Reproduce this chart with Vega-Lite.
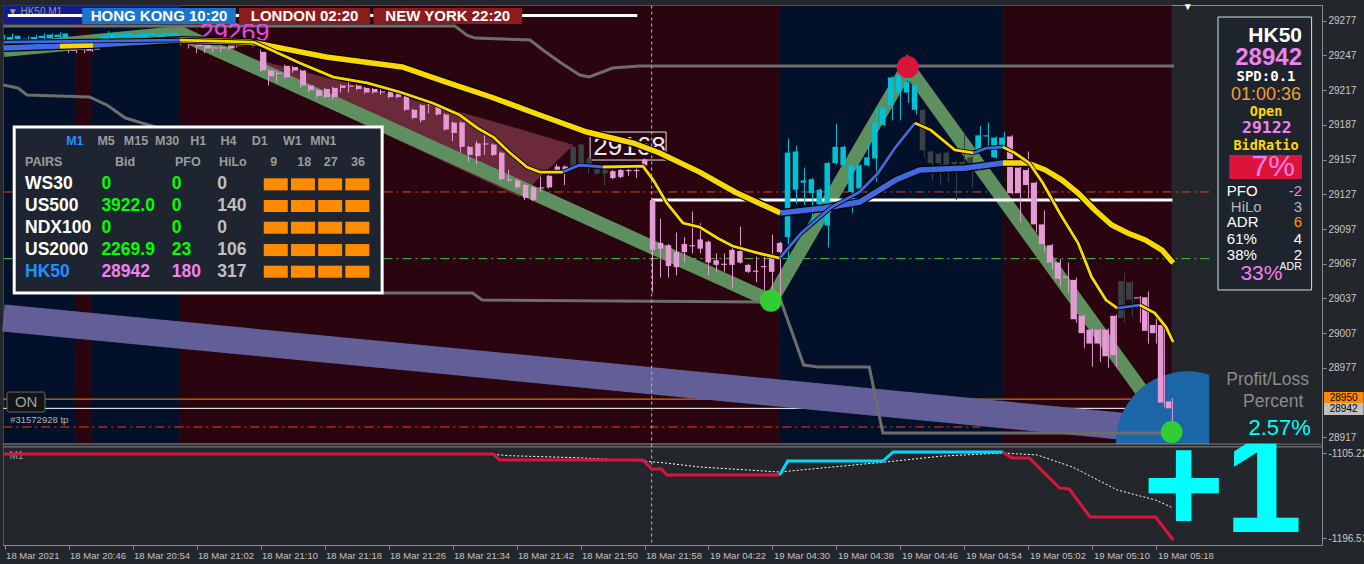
{
"$schema": "https://vega.github.io/schema/vega-lite/v6.json",
"width": 1319, "height": 540,
"autosize": {"type": "none"},
"padding": {"left": 3, "top": 5, "right": 42, "bottom": 19},
"background": "#23272b",
"config": {"view": {"fill": "#23272b", "stroke": "#8c8c8c", "strokeWidth": 1}, "text": {"font": "Liberation Sans"}},
"datasets": {
"candles": [
{"i":0,"o":29260,"h":29265,"l":29259,"c":29263,"t":"up"},{"i":1,"o":29261,"h":29266,"l":29259,"c":29264,"t":"up"},{"i":2,"o":29262,"h":29263,"l":29259,"c":29260,"t":"nt"},{"i":3,"o":29261,"h":29264,"l":29260,"c":29263,"t":"up"},{"i":4,"o":29262,"h":29265,"l":29261,"c":29264,"t":"up"},{"i":5,"o":29262,"h":29266,"l":29261,"c":29265,"t":"up"},{"i":6,"o":29263,"h":29266,"l":29262,"c":29265,"t":"up"},{"i":7,"o":29262,"h":29267,"l":29261,"c":29266,"t":"up"},{"i":8,"o":29253,"h":29255,"l":29249,"c":29251,"t":"dn"},{"i":9,"o":29253,"h":29254,"l":29249,"c":29252,"t":"dn"},{"i":10,"o":29253,"h":29254,"l":29249,"c":29251,"t":"dn"},{"i":11,"o":29254,"h":29255,"l":29250,"c":29252,"t":"dn"},{"i":12,"o":29261,"h":29265,"l":29260,"c":29264,"t":"up"},{"i":13,"o":29262,"h":29268,"l":29261,"c":29266,"t":"up"},{"i":14,"o":29263,"h":29266,"l":29262,"c":29265,"t":"up"},{"i":15,"o":29263,"h":29267,"l":29262,"c":29266,"t":"up"},{"i":16,"o":29263,"h":29266,"l":29262,"c":29265,"t":"up"},{"i":17,"o":29263,"h":29267,"l":29262,"c":29266,"t":"up"},{"i":18,"o":29264,"h":29267,"l":29263,"c":29266,"t":"up"},{"i":19,"o":29263,"h":29266,"l":29262,"c":29265,"t":"up"},{"i":20,"o":29264,"h":29267,"l":29263,"c":29266,"t":"up"},{"i":21,"o":29264,"h":29268,"l":29263,"c":29266,"t":"up"},
{"i":22,"o":29260,"h":29262,"l":29256,"c":29258,"t":"dn"},{"i":23,"o":29258,"h":29259,"l":29253,"c":29256,"t":"dn"},{"i":24,"o":29257,"h":29258,"l":29249,"c":29255,"t":"dn"},{"i":25,"o":29256,"h":29257,"l":29249,"c":29253,"t":"dn"},{"i":26,"o":29254,"h":29255,"l":29250,"c":29253,"t":"dn"},{"i":27,"o":29254,"h":29256,"l":29250,"c":29253,"t":"dn"},{"i":28,"o":29256,"h":29257,"l":29252,"c":29253,"t":"dn"},{"i":29,"o":29257,"h":29258,"l":29254,"c":29255,"t":"dn"},{"i":30,"o":29258,"h":29259,"l":29255,"c":29256,"t":"dn"},{"i":31,"o":29258,"h":29259,"l":29254,"c":29255,"t":"dn"},{"i":32,"o":29250,"h":29252,"l":29233,"c":29234,"t":"dn"},{"i":33,"o":29234,"h":29235,"l":29221,"c":29229,"t":"dn"},{"i":34,"o":29232,"h":29234,"l":29224,"c":29231,"t":"dn"},{"i":35,"o":29238,"h":29239,"l":29227,"c":29228,"t":"dn"},{"i":36,"o":29237,"h":29238,"l":29232,"c":29234,"t":"dn"},{"i":37,"o":29234,"h":29235,"l":29219,"c":29221,"t":"dn"},{"i":38,"o":29221,"h":29222,"l":29215,"c":29217,"t":"dn"},{"i":39,"o":29217,"h":29218,"l":29210,"c":29212,"t":"dn"},{"i":40,"o":29218,"h":29219,"l":29210,"c":29211,"t":"dn"},{"i":41,"o":29219,"h":29220,"l":29209,"c":29211,"t":"dn"},{"i":42,"o":29221,"h":29222,"l":29215,"c":29219,"t":"dn"},{"i":43,"o":29221,"h":29228,"l":29215,"c":29220,"t":"dn"},{"i":44,"o":29221,"h":29222,"l":29217,"c":29218,"t":"dn"},{"i":45,"o":29219,"h":29220,"l":29214,"c":29215,"t":"dn"},{"i":46,"o":29218,"h":29219,"l":29214,"c":29215,"t":"dn"},{"i":47,"o":29216,"h":29218,"l":29213,"c":29215,"t":"dn"},{"i":48,"o":29216,"h":29217,"l":29210,"c":29211,"t":"dn"},{"i":49,"o":29215,"h":29216,"l":29210,"c":29211,"t":"dn"},
{"i":50,"o":29213,"h":29214,"l":29199,"c":29200,"t":"dn"},{"i":51,"o":29200,"h":29201,"l":29192,"c":29193,"t":"dn"},{"i":52,"o":29204,"h":29205,"l":29189,"c":29191,"t":"dn"},{"i":53,"o":29205,"h":29206,"l":29197,"c":29204,"t":"dn"},{"i":54,"o":29203,"h":29204,"l":29195,"c":29196,"t":"dn"},{"i":55,"o":29196,"h":29197,"l":29182,"c":29183,"t":"dn"},{"i":56,"o":29189,"h":29190,"l":29173,"c":29180,"t":"dn"},{"i":57,"o":29189,"h":29190,"l":29163,"c":29168,"t":"dn"},{"i":58,"o":29168,"h":29169,"l":29155,"c":29161,"t":"dn"},{"i":59,"o":29171,"h":29173,"l":29153,"c":29160,"t":"dn"},{"i":60,"o":29171,"h":29178,"l":29161,"c":29170,"t":"dn"},{"i":61,"o":29170,"h":29171,"l":29160,"c":29161,"t":"dn"},{"i":62,"o":29163,"h":29164,"l":29139,"c":29140,"t":"dn"},{"i":63,"o":29140,"h":29148,"l":29138,"c":29139,"t":"dn"},{"i":64,"o":29139,"h":29140,"l":29132,"c":29133,"t":"dn"},{"i":65,"o":29135,"h":29136,"l":29122,"c":29124,"t":"dn"},{"i":66,"o":29133,"h":29134,"l":29121,"c":29122,"t":"dn"},{"i":67,"o":29133,"h":29142,"l":29129,"c":29132,"t":"dn"},{"i":68,"o":29143,"h":29144,"l":29132,"c":29133,"t":"dn"},{"i":69,"o":29151,"h":29153,"l":29145,"c":29148,"t":"dn"},{"i":70,"o":29151,"h":29152,"l":29135,"c":29148,"t":"dn"},{"i":71,"o":29151,"h":29169,"l":29150,"c":29168,"t":"nt"},{"i":72,"o":29151,"h":29171,"l":29150,"c":29170,"t":"nt"},{"i":73,"o":29150,"h":29159,"l":29145,"c":29158,"t":"nt"},{"i":74,"o":29145,"h":29150,"l":29144,"c":29149,"t":"nt"},{"i":75,"o":29145,"h":29149,"l":29135,"c":29148,"t":"nt"},{"i":76,"o":29147,"h":29148,"l":29140,"c":29141,"t":"dn"},{"i":77,"o":29148,"h":29149,"l":29141,"c":29142,"t":"dn"},{"i":78,"o":29148,"h":29149,"l":29143,"c":29147,"t":"dn"},{"i":79,"o":29148,"h":29150,"l":29141,"c":29147,"t":"dn"},{"i":80,"o":29157,"h":29158,"l":29150,"c":29152,"t":"dn"},
{"i":81,"o":29122,"h":29123,"l":29042,"c":29079,"t":"dn"},{"i":82,"o":29085,"h":29106,"l":29055,"c":29080,"t":"dn"},{"i":83,"o":29083,"h":29084,"l":29055,"c":29065,"t":"dn"},{"i":84,"o":29077,"h":29094,"l":29057,"c":29064,"t":"dn"},{"i":85,"o":29084,"h":29090,"l":29068,"c":29077,"t":"dn"},{"i":86,"o":29083,"h":29112,"l":29076,"c":29082,"t":"dn"},{"i":87,"o":29088,"h":29102,"l":29076,"c":29080,"t":"dn"},{"i":88,"o":29086,"h":29087,"l":29057,"c":29068,"t":"dn"},{"i":89,"o":29070,"h":29076,"l":29060,"c":29066,"t":"dn"},{"i":90,"o":29067,"h":29076,"l":29060,"c":29066,"t":"dn"},{"i":91,"o":29079,"h":29083,"l":29046,"c":29066,"t":"dn"},{"i":92,"o":29078,"h":29099,"l":29067,"c":29068,"t":"dn"},{"i":93,"o":29066,"h":29067,"l":29059,"c":29060,"t":"dn"},{"i":94,"o":29061,"h":29073,"l":29051,"c":29060,"t":"dn"},{"i":95,"o":29065,"h":29076,"l":29044,"c":29064,"t":"dn"},{"i":96,"o":29075,"h":29092,"l":29044,"c":29060,"t":"dn"},{"i":97,"o":29085,"h":29086,"l":29038,"c":29077,"t":"dn"},
{"i":98,"o":29090,"h":29175,"l":29070,"c":29163,"t":"up"},{"i":99,"o":29131,"h":29169,"l":29119,"c":29164,"t":"up"},{"i":100,"o":29137,"h":29150,"l":29118,"c":29139,"t":"up"},{"i":101,"o":29128,"h":29141,"l":29100,"c":29140,"t":"up"},{"i":102,"o":29118,"h":29132,"l":29099,"c":29131,"t":"up"},{"i":103,"o":29100,"h":29155,"l":29081,"c":29154,"t":"up"},{"i":104,"o":29154,"h":29188,"l":29153,"c":29168,"t":"up"},{"i":105,"o":29152,"h":29169,"l":29151,"c":29168,"t":"up"},{"i":106,"o":29129,"h":29153,"l":29111,"c":29152,"t":"up"},{"i":107,"o":29132,"h":29153,"l":29131,"c":29152,"t":"up"},{"i":108,"o":29152,"h":29171,"l":29151,"c":29159,"t":"up"},{"i":109,"o":29158,"h":29202,"l":29138,"c":29189,"t":"up"},{"i":110,"o":29187,"h":29203,"l":29186,"c":29202,"t":"up"},{"i":111,"o":29204,"h":29229,"l":29191,"c":29228,"t":"up"},{"i":112,"o":29215,"h":29231,"l":29191,"c":29230,"t":"up"},{"i":113,"o":29215,"h":29236,"l":29206,"c":29224,"t":"up"},{"i":114,"o":29200,"h":29222,"l":29196,"c":29221,"t":"up"},{"i":115,"o":29200,"h":29201,"l":29159,"c":29165,"t":"nt"},{"i":116,"o":29164,"h":29165,"l":29139,"c":29154,"t":"nt"},{"i":117,"o":29162,"h":29163,"l":29135,"c":29154,"t":"nt"},{"i":118,"o":29163,"h":29164,"l":29138,"c":29152,"t":"nt"},{"i":119,"o":29155,"h":29156,"l":29122,"c":29152,"t":"nt"},{"i":120,"o":29155,"h":29181,"l":29151,"c":29152,"t":"nt"},{"i":121,"o":29159,"h":29160,"l":29133,"c":29152,"t":"nt"},{"i":122,"o":29165,"h":29186,"l":29164,"c":29178,"t":"up"},{"i":123,"o":29177,"h":29189,"l":29168,"c":29178,"t":"up"},{"i":124,"o":29159,"h":29177,"l":29158,"c":29176,"t":"up"},{"i":125,"o":29168,"h":29181,"l":29167,"c":29176,"t":"up"},
{"i":126,"o":29177,"h":29178,"l":29127,"c":29128,"t":"dn"},{"i":127,"o":29150,"h":29151,"l":29103,"c":29128,"t":"dn"},{"i":128,"o":29148,"h":29164,"l":29122,"c":29135,"t":"dn"},{"i":129,"o":29137,"h":29138,"l":29094,"c":29101,"t":"dn"},{"i":130,"o":29101,"h":29113,"l":29077,"c":29084,"t":"dn"},{"i":131,"o":29083,"h":29084,"l":29062,"c":29068,"t":"dn"},{"i":132,"o":29068,"h":29071,"l":29048,"c":29054,"t":"dn"},{"i":133,"o":29056,"h":29068,"l":29042,"c":29055,"t":"dn"},{"i":134,"o":29053,"h":29055,"l":29016,"c":29019,"t":"dn"},{"i":135,"o":29022,"h":29023,"l":28994,"c":29007,"t":"dn"},{"i":136,"o":29010,"h":29011,"l":28978,"c":28998,"t":"dn"},{"i":137,"o":29010,"h":29011,"l":28982,"c":28998,"t":"dn"},{"i":138,"o":29010,"h":29011,"l":28977,"c":28987,"t":"dn"},{"i":139,"o":29022,"h":29023,"l":28978,"c":28988,"t":"dn"},{"i":140,"o":29052,"h":29059,"l":29016,"c":29020,"t":"nt"},{"i":141,"o":29051,"h":29052,"l":29021,"c":29036,"t":"nt"},{"i":142,"o":29038,"h":29039,"l":29016,"c":29037,"t":"dn"},{"i":143,"o":29038,"h":29043,"l":28998,"c":29009,"t":"dn"},{"i":144,"o":29014,"h":29021,"l":28998,"c":29007,"t":"dn"},{"i":145,"o":29014,"h":29015,"l":28943,"c":28947,"t":"dn"},{"i":146,"o":28948,"h":28951,"l":28921,"c":28942,"t":"dn"}
],
"ma": [
{"i":-0.1,"p":29253.4,"s":"s1","m":"s","c":"b"},{"i":6.9,"p":29255.1,"s":"s1","m":"s","c":"b"},
{"i":6.9,"p":29255.1,"s":"s2","m":"s","c":"y"},{"i":11.1,"p":29256.0,"s":"s2","m":"s","c":"y"},
{"i":11.1,"p":29256.0,"s":"s3","m":"s","c":"b"},{"i":21.9,"p":29260.3,"s":"s3","m":"s","c":"b"},
{"i":21.9,"p":29260.3,"s":"s4","m":"s","c":"y"},{"i":30.7,"p":29258.6,"s":"s4","m":"s","c":"y"},{"i":40.2,"p":29245.6,"s":"s4","m":"s","c":"y"},{"i":49.7,"p":29237.0,"s":"s4","m":"s","c":"y"},{"i":55.2,"p":29224.0,"s":"s4","m":"s","c":"y"},{"i":60.8,"p":29211.1,"s":"s4","m":"s","c":"y"},{"i":66.9,"p":29195.5,"s":"s4","m":"s","c":"y"},{"i":72.8,"p":29180.8,"s":"s4","m":"s","c":"y"},{"i":78.6,"p":29171.3,"s":"s4","m":"s","c":"y"},{"i":81.9,"p":29162.7,"s":"s4","m":"s","c":"y"},{"i":86.9,"p":29146.2,"s":"s4","m":"s","c":"y"},{"i":91.3,"p":29129.0,"s":"s4","m":"s","c":"y"},{"i":97.0,"p":29110.8,"s":"s4","m":"s","c":"y"},
{"i":97.0,"p":29110.8,"s":"s5","m":"s","c":"b"},{"i":102.5,"p":29115.1,"s":"s5","m":"s","c":"b"},{"i":106.9,"p":29120.3,"s":"s5","m":"s","c":"b"},{"i":111.4,"p":29139.3,"s":"s5","m":"s","c":"b"},{"i":114.4,"p":29148.0,"s":"s5","m":"s","c":"b"},{"i":120.2,"p":29149.7,"s":"s5","m":"s","c":"b"},{"i":124.8,"p":29154.0,"s":"s5","m":"s","c":"b"},
{"i":124.8,"p":29154.0,"s":"s6","m":"s","c":"y"},{"i":127.9,"p":29154.0,"s":"s6","m":"s","c":"y"},{"i":130.1,"p":29148.0,"s":"s6","m":"s","c":"y"},{"i":132.2,"p":29139.3,"s":"s6","m":"s","c":"y"},{"i":134.2,"p":29128.1,"s":"s6","m":"s","c":"y"},{"i":136.3,"p":29113.4,"s":"s6","m":"s","c":"y"},{"i":138.4,"p":29100.4,"s":"s6","m":"s","c":"y"},{"i":140.4,"p":29093.5,"s":"s6","m":"s","c":"y"},{"i":142.6,"p":29087.5,"s":"s6","m":"s","c":"y"},{"i":144.7,"p":29078.8,"s":"s6","m":"s","c":"y"},{"i":146.1,"p":29067.6,"s":"s6","m":"s","c":"y"},
{"i":-0.1,"p":29258.6,"s":"f1","m":"f","c":"b"},{"i":21.9,"p":29260.3,"s":"f1","m":"f","c":"b"},
{"i":21.9,"p":29260.3,"s":"f2","m":"f","c":"y"},{"i":31.1,"p":29258.6,"s":"f2","m":"f","c":"y"},{"i":32.8,"p":29253.4,"s":"f2","m":"f","c":"y"},{"i":36.9,"p":29240.4,"s":"f2","m":"f","c":"y"},{"i":41.1,"p":29228.3,"s":"f2","m":"f","c":"y"},{"i":45.3,"p":29223.2,"s":"f2","m":"f","c":"y"},{"i":49.4,"p":29215.4,"s":"f2","m":"f","c":"y"},{"i":53.5,"p":29205.9,"s":"f2","m":"f","c":"y"},{"i":56.9,"p":29195.5,"s":"f2","m":"f","c":"y"},{"i":59.1,"p":29184.3,"s":"f2","m":"f","c":"y"},{"i":61.1,"p":29176.5,"s":"f2","m":"f","c":"y"},{"i":63.2,"p":29162.7,"s":"f2","m":"f","c":"y"},{"i":65.3,"p":29150.6,"s":"f2","m":"f","c":"y"},{"i":66.9,"p":29146.2,"s":"f2","m":"f","c":"y"},{"i":69.8,"p":29146.2,"s":"f2","m":"f","c":"y"},
{"i":69.8,"p":29146.2,"s":"f3","m":"f","c":"b"},{"i":71.9,"p":29152.3,"s":"f3","m":"f","c":"b"},{"i":74.8,"p":29150.6,"s":"f3","m":"f","c":"b"},
{"i":74.8,"p":29150.6,"s":"f4","m":"f","c":"y"},{"i":79.8,"p":29151.4,"s":"f4","m":"f","c":"y"},{"i":81.1,"p":29139.3,"s":"f4","m":"f","c":"y"},{"i":82.8,"p":29119.4,"s":"f4","m":"f","c":"y"},{"i":84.8,"p":29102.2,"s":"f4","m":"f","c":"y"},{"i":86.9,"p":29098.7,"s":"f4","m":"f","c":"y"},{"i":89.1,"p":29089.2,"s":"f4","m":"f","c":"y"},{"i":91.0,"p":29082.3,"s":"f4","m":"f","c":"y"},{"i":94.1,"p":29076.3,"s":"f4","m":"f","c":"y"},{"i":96.9,"p":29071.9,"s":"f4","m":"f","c":"y"},
{"i":96.9,"p":29071.9,"s":"f5","m":"f","c":"b"},{"i":99.6,"p":29093.5,"s":"f5","m":"f","c":"b"},{"i":103.4,"p":29116.0,"s":"f5","m":"f","c":"b"},{"i":106.9,"p":29129.0,"s":"f5","m":"f","c":"b"},{"i":109.2,"p":29145.4,"s":"f5","m":"f","c":"b"},{"i":111.4,"p":29167.8,"s":"f5","m":"f","c":"b"},{"i":113.8,"p":29188.6,"s":"f5","m":"f","c":"b"},
{"i":113.8,"p":29188.6,"s":"f6","m":"f","c":"y"},{"i":115.8,"p":29182.5,"s":"f6","m":"f","c":"y"},{"i":118.8,"p":29165.3,"s":"f6","m":"f","c":"y"},{"i":121.1,"p":29162.7,"s":"f6","m":"f","c":"y"},
{"i":121.1,"p":29162.7,"s":"f7","m":"f","c":"b"},{"i":122.8,"p":29167.0,"s":"f7","m":"f","c":"b"},{"i":124.8,"p":29167.8,"s":"f7","m":"f","c":"b"},
{"i":124.8,"p":29167.8,"s":"f8","m":"f","c":"y"},{"i":126.3,"p":29162.7,"s":"f8","m":"f","c":"y"},{"i":128.1,"p":29154.0,"s":"f8","m":"f","c":"y"},{"i":129.8,"p":29136.7,"s":"f8","m":"f","c":"y"},{"i":131.9,"p":29110.8,"s":"f8","m":"f","c":"y"},{"i":134.2,"p":29084.9,"s":"f8","m":"f","c":"y"},{"i":135.9,"p":29055.5,"s":"f8","m":"f","c":"y"},{"i":137.7,"p":29035.6,"s":"f8","m":"f","c":"y"},{"i":139.1,"p":29028.7,"s":"f8","m":"f","c":"y"},
{"i":139.1,"p":29028.7,"s":"f9","m":"f","c":"b"},{"i":141.9,"p":29031.3,"s":"f9","m":"f","c":"b"},
{"i":141.9,"p":29031.3,"s":"f10","m":"f","c":"y"},{"i":143.8,"p":29024.4,"s":"f10","m":"f","c":"y"},{"i":145.2,"p":29012.3,"s":"f10","m":"f","c":"y"},{"i":146.1,"p":28999.3,"s":"f10","m":"f","c":"y"}
],
"gray": [
{"i":-0.15,"p":29272.4,"g":"u"},{"i":56.3,"p":29272.4,"g":"u"},{"i":57.8,"p":29264.6,"g":"u"},{"i":58.8,"p":29262.0,"g":"u"},{"i":65.7,"p":29260.3,"g":"u"},{"i":67.3,"p":29251.7,"g":"u"},{"i":69.4,"p":29241.3,"g":"u"},{"i":71.9,"p":29230.1,"g":"u"},{"i":73.1,"p":29228.4,"g":"u"},{"i":76.0,"p":29236.1,"g":"u"},{"i":79.4,"p":29237.9,"g":"u"},{"i":146.2,"p":29237.9,"g":"u"},
{"i":-0.15,"p":29221.4,"g":"l"},{"i":1.7,"p":29218.8,"g":"l"},{"i":2.8,"p":29212.8,"g":"l"},{"i":10.6,"p":29211.1,"g":"l"},{"i":12.8,"p":29204.1,"g":"l"},{"i":15.1,"p":29192.9,"g":"l"},{"i":18.9,"p":29185.1,"g":"l"},{"i":31.9,"p":29122.0,"g":"l"},{"i":47.4,"p":29041.7,"g":"l"},{"i":58.5,"p":29041.7,"g":"l"},{"i":59.7,"p":29035.6,"g":"l"},{"i":97.1,"p":29033.9,"g":"l"},{"i":99.9,"p":28979.4,"g":"l"},{"i":101.7,"p":28977.7,"g":"l"},{"i":108.1,"p":28977.7,"g":"l"},{"i":109.8,"p":28920.7,"g":"l"},{"i":146.0,"p":28920.7,"g":"l"}
],
"tbl": [
{"s":"M1","i":7.7,"p":29173.3,"k":"h","r":0},{"s":"M5","i":11.6,"p":29173.3,"k":"h","r":0},{"s":"M15","i":14.9,"p":29173.3,"k":"h","r":0},{"s":"M30","i":18.8,"p":29173.3,"k":"h","r":0},{"s":"H1","i":23.2,"p":29173.3,"k":"h","r":0},{"s":"H4","i":27.0,"p":29173.3,"k":"h","r":0},{"s":"D1","i":30.9,"p":29173.3,"k":"h","r":0},{"s":"W1","i":34.8,"p":29173.3,"k":"h","r":0},{"s":"MN1","i":38.2,"p":29173.3,"k":"h","r":0},
{"s":"PAIRS","i":2.55,"p":29155.1,"k":"h","r":0},{"s":"Bid","i":13.8,"p":29155.1,"k":"h","r":0},{"s":"PFO","i":21.3,"p":29155.1,"k":"h","r":0},{"s":"HiLo","i":26.8,"p":29155.1,"k":"h","r":0},{"s":"9","i":33.2,"p":29155.1,"k":"h","r":0},{"s":"18","i":36.6,"p":29155.1,"k":"h","r":0},{"s":"27","i":39.9,"p":29155.1,"k":"h","r":0},{"s":"36","i":43.3,"p":29155.1,"k":"h","r":0},
{"s":"WS30","i":2.55,"p":29135.6,"k":"n","r":1},{"s":"0","i":12.1,"p":29135.6,"k":"b","r":1},{"s":"0","i":20.9,"p":29135.6,"k":"f","r":1},{"s":"0","i":26.6,"p":29135.6,"k":"x","r":1},
{"s":"US500","i":2.55,"p":29116.9,"k":"n","r":2},{"s":"3922.0","i":12.1,"p":29116.9,"k":"b","r":2},{"s":"0","i":20.9,"p":29116.9,"k":"f","r":2},{"s":"140","i":26.6,"p":29116.9,"k":"x","r":2},
{"s":"NDX100","i":2.55,"p":29098.1,"k":"n","r":3},{"s":"0","i":12.1,"p":29098.1,"k":"b","r":3},{"s":"0","i":20.9,"p":29098.1,"k":"f","r":3},{"s":"0","i":26.6,"p":29098.1,"k":"x","r":3},
{"s":"US2000","i":2.55,"p":29078.8,"k":"n","r":4},{"s":"2269.9","i":12.1,"p":29078.8,"k":"b","r":4},{"s":"23","i":20.9,"p":29078.8,"k":"f","r":4},{"s":"106","i":26.6,"p":29078.8,"k":"x","r":4},
{"s":"HK50","i":2.55,"p":29060.1,"k":"n","r":5},{"s":"28942","i":12.1,"p":29060.1,"k":"b","r":5},{"s":"180","i":20.9,"p":29060.1,"k":"f","r":5},{"s":"317","i":26.6,"p":29060.1,"k":"x","r":5}
],
"boxes": [
{"i":32.4,"i2":35.4,"p":29140.8,"p2":29130.4},{"i":35.8,"i2":38.8,"p":29140.8,"p2":29130.4},{"i":39.2,"i2":42.2,"p":29140.8,"p2":29130.4},{"i":42.6,"i2":45.6,"p":29140.8,"p2":29130.4},
{"i":32.4,"i2":35.4,"p":29122.1,"p2":29111.7},{"i":35.8,"i2":38.8,"p":29122.1,"p2":29111.7},{"i":39.2,"i2":42.2,"p":29122.1,"p2":29111.7},{"i":42.6,"i2":45.6,"p":29122.1,"p2":29111.7},
{"i":32.4,"i2":35.4,"p":29103.3,"p2":29092.9},{"i":35.8,"i2":38.8,"p":29103.3,"p2":29092.9},{"i":39.2,"i2":42.2,"p":29103.3,"p2":29092.9},{"i":42.6,"i2":45.6,"p":29103.3,"p2":29092.9},
{"i":32.4,"i2":35.4,"p":29084.0,"p2":29073.6},{"i":35.8,"i2":38.8,"p":29084.0,"p2":29073.6},{"i":39.2,"i2":42.2,"p":29084.0,"p2":29073.6},{"i":42.6,"i2":45.6,"p":29084.0,"p2":29073.6},
{"i":32.4,"i2":35.4,"p":29065.3,"p2":29054.9},{"i":35.8,"i2":38.8,"p":29065.3,"p2":29054.9},{"i":39.2,"i2":42.2,"p":29065.3,"p2":29054.9},{"i":42.6,"i2":45.6,"p":29065.3,"p2":29054.9}
],
"pan": [
{"s":"HK50","i":162.2,"p":29263.8,"r":"t"},{"s":"28942","i":162.2,"p":29244.8,"r":"b"},{"s":"SPD:0.1","i":157.7,"p":29228.3,"r":"m1"},{"s":"01:00:36","i":157.7,"p":29212.4,"r":"clk"},{"s":"Open","i":157.7,"p":29198.1,"r":"m2"},{"s":"29122","i":157.8,"p":29184.6,"r":"m3"},{"s":"BidRatio","i":157.7,"p":29168.7,"r":"m2"},{"s":"7%","i":161.3,"p":29150.6,"r":"pct"},
{"s":"PFO","i":152.8,"p":29129.8,"r":"lab"},{"s":"HiLo","i":153.3,"p":29116.0,"r":"lab"},{"s":"ADR","i":152.8,"p":29103.0,"r":"lab"},{"s":"61%","i":152.8,"p":29088.3,"r":"lab"},{"s":"38%","i":152.8,"p":29074.5,"r":"lab"},
{"s":"-2","i":162.2,"p":29129.8,"r":"val"},{"s":"3","i":162.2,"p":29116.0,"r":"val"},{"s":"6","i":162.2,"p":29103.0,"r":"val"},{"s":"4","i":162.2,"p":29088.3,"r":"val"},{"s":"2","i":162.2,"p":29074.5,"r":"val"},
{"s":"33%","i":154.5,"p":29058.1,"r":"big"},{"s":"ADR","i":159.4,"p":29064.3,"r":"sup"}
],
"osc": [
{"i":-0.15,"v":-1106.3,"s":"a","c":"r"},{"i":61.1,"v":-1106.3,"s":"a","c":"r"},{"i":61.9,"v":-1112.7,"s":"a","c":"r"},{"i":79.8,"v":-1112.7,"s":"a","c":"r"},{"i":80.9,"v":-1122.4,"s":"a","c":"r"},{"i":82.1,"v":-1122.4,"s":"a","c":"r"},{"i":82.8,"v":-1128.8,"s":"a","c":"r"},{"i":96.9,"v":-1128.8,"s":"a","c":"r"},
{"i":96.9,"v":-1128.8,"s":"b","c":"c"},{"i":97.9,"v":-1113.8,"s":"b","c":"c"},{"i":109.8,"v":-1113.8,"s":"b","c":"c"},{"i":111.1,"v":-1104.1,"s":"b","c":"c"},{"i":124.8,"v":-1104.1,"s":"b","c":"c"},
{"i":124.8,"v":-1104.1,"s":"d","c":"r"},{"i":125.9,"v":-1110.6,"s":"d","c":"r"},{"i":128.1,"v":-1110.6,"s":"d","c":"r"},{"i":131.9,"v":-1142.8,"s":"d","c":"r"},{"i":133.1,"v":-1143.9,"s":"d","c":"r"},{"i":135.7,"v":-1173.9,"s":"d","c":"r"},{"i":143.9,"v":-1173.9,"s":"d","c":"r"},{"i":146.1,"v":-1198.6,"s":"d","c":"r"}
],
"osd": [
{"i":61.1,"v":-1106.6},{"i":63.1,"v":-1108.1},{"i":71.4,"v":-1110.2},{"i":79.8,"v":-1113.8},{"i":82.6,"v":-1115.9},{"i":86.9,"v":-1120.2},{"i":96.9,"v":-1125.6},{"i":100.8,"v":-1122.4},{"i":110.1,"v":-1114.9},{"i":117.2,"v":-1108.5},{"i":124.8,"v":-1105.2},{"i":129.1,"v":-1107.3},{"i":133.5,"v":-1120.2},{"i":139.1,"v":-1144.9},{"i":143.9,"v":-1155.7},{"i":146.1,"v":-1164.3}
]
},
"layer": [
{"data": {"values": [{"i":-0.15,"i2":8.9,"p":29290.1,"p2":28911.6,"k":"n"},{"i":8.9,"i2":10.9,"p":29290.1,"p2":28911.6,"k":"m"},{"i":10.9,"i2":21.9,"p":29290.1,"p2":28911.6,"k":"n"},{"i":21.9,"i2":96.9,"p":29290.1,"p2":28911.6,"k":"m"},{"i":96.9,"i2":124.8,"p":29290.1,"p2":28911.6,"k":"n"},{"i":124.8,"i2":145.9,"p":29290.1,"p2":28911.6,"k":"m"}]},
 "mark": {"type": "rect"},
 "encoding": {
  "x": {"field": "i", "type": "quantitative", "scale": {"domain": [-0.2, 164.7], "nice": false, "zero": false},
   "axis": {"orient": "bottom", "values": [0,8,16,24,32,40,48,56,64,72,80,88,96,104,112,120,128,136,144],
    "labelExpr": "['18 Mar 2021','18 Mar 20:46','18 Mar 20:54','18 Mar 21:02','18 Mar 21:10','18 Mar 21:18','18 Mar 21:26','18 Mar 21:34','18 Mar 21:42','18 Mar 21:50','18 Mar 21:58','19 Mar 04:22','19 Mar 04:30','19 Mar 04:38','19 Mar 04:46','19 Mar 04:54','19 Mar 05:02','19 Mar 05:10','19 Mar 05:18'][round(datum.value/8)]",
    "title": null, "grid": false, "domain": false, "ticks": true, "tickColor": "#8c8c8c", "tickSize": 4, "labels": true, "labelColor": "#c0c0c0", "labelFont": "Liberation Sans", "labelFontSize": 9.5, "labelAlign": "left", "labelBaseline": "top", "labelPadding": 1, "labelOffset": 1, "labelOverlap": false, "labelFlush": false, "labelBound": false, "zindex": 1}},
  "x2": {"field": "i2"},
  "y": {"field": "p", "type": "quantitative", "scale": {"domain": [28823.9, 29290.6], "nice": false, "zero": false},
   "axis": {"orient": "right", "values": [29277,29247,29217,29187,29157,29127,29097,29067,29037,29007,28977,28917,28903.4,28829.9], "format": "d",
    "labelExpr": "datum.value < 28910 ? (datum.value > 28860 ? '-1105.220' : '-1196.519') : datum.label",
    "title": null, "grid": false, "domain": true, "domainColor": "#8c8c8c", "ticks": true, "tickColor": "#8c8c8c", "tickSize": 4, "labels": true, "labelColor": "#c8c8c8", "labelFont": "Liberation Sans", "labelFontSize": 10, "labelPadding": 2, "labelBaseline": "middle", "labelBound": false, "labelFlush": false, "labelOverlap": false, "zindex": 1}},
  "y2": {"field": "p2"},
  "color": {"condition": {"test": "datum.k=='n'", "value": "#031029"}, "value": "#2a0510"}}},
{"data": {"values": [{"i":-0.15,"i2":21.9,"p":29290.1,"p2":29274.2}]}, "mark": {"type": "rect", "color": "#111c8a"},
 "encoding": {"x": {"field": "i", "type": "quantitative", "scale": {"domain": [-0.2, 164.7], "nice": false, "zero": false}, "axis": null}, "x2": {"field": "i2"}, "y": {"field": "p", "type": "quantitative", "scale": {"domain": [28823.9, 29290.6], "nice": false, "zero": false}, "axis": null}, "y2": {"field": "p2"}}},
{"data": {"values": [{"s":"▼ HK50,M1","i":0.4,"p":29284.5}]}, "mark": {"type": "text", "align": "left", "baseline": "middle", "fontSize": 10, "color": "#9a9a9a"},
 "encoding": {"x": {"field": "i", "type": "quantitative", "scale": {"domain": [-0.2, 164.7], "nice": false, "zero": false}, "axis": null}, "y": {"field": "p", "type": "quantitative", "scale": {"domain": [28823.9, 29290.6], "nice": false, "zero": false}, "axis": null}, "text": {"field": "s"}}},
{"data": {"values": [{"i":-0.15,"i2":146,"p":28950,"k":"o"},{"i":-0.15,"i2":146,"p":28942,"k":"w"}]}, "mark": {"type": "rule", "strokeWidth": 1},
 "encoding": {"x": {"field": "i", "type": "quantitative", "scale": {"domain": [-0.2, 164.7], "nice": false, "zero": false}, "axis": null}, "x2": {"field": "i2"}, "y": {"field": "p", "type": "quantitative", "scale": {"domain": [28823.9, 29290.6], "nice": false, "zero": false}, "axis": null}, "color": {"condition": {"test": "datum.k=='o'", "value": "#ff8c00"}, "value": "#ffffff"}}},
{"data": {"values": [{"i":-0.15,"i2":122,"p":28925.9,"k":"r"},{"i":-0.15,"i2":150.6,"p":29129,"k":"o"},{"i":-0.15,"i2":150.6,"p":29071.4,"k":"g"}]}, "mark": {"type": "rule", "strokeWidth": 1, "strokeDash": [9,4,2,4]},
 "encoding": {"x": {"field": "i", "type": "quantitative", "scale": {"domain": [-0.2, 164.7], "nice": false, "zero": false}, "axis": null}, "x2": {"field": "i2"}, "y": {"field": "p", "type": "quantitative", "scale": {"domain": [28823.9, 29290.6], "nice": false, "zero": false}, "axis": null}, "color": {"condition": [{"test": "datum.k=='r'", "value": "#ff3c14"}, {"test": "datum.k=='o'", "value": "#d24a28"}], "value": "#3cc83c"}}},
{"data": {"values": [{"i":-0.15,"p":29020.1},{"i":145.9,"p":28922.4}]}, "mark": {"type": "line", "strokeWidth": 27, "color": "#625f98", "strokeCap": "butt"},
 "encoding": {"x": {"field": "i", "type": "quantitative", "scale": {"domain": [-0.2, 164.7], "nice": false, "zero": false}, "axis": null}, "y": {"field": "p", "type": "quantitative", "scale": {"domain": [28823.9, 29290.6], "nice": false, "zero": false}, "axis": null}}},
{"data": {"values": [{"i":24.4,"p":29256.0,"p2":29253.4},{"i":56.9,"p":29198.1,"p2":29148.8},{"i":64.4,"p":29183.4,"p2":29124.6},{"i":71.1,"p":29169.6,"p2":29169.6}]}, "mark": {"type": "area", "color": "#6b2a3a"},
 "encoding": {"x": {"field": "i", "type": "quantitative", "scale": {"domain": [-0.2, 164.7], "nice": false, "zero": false}, "axis": null}, "y": {"field": "p", "type": "quantitative", "scale": {"domain": [28823.9, 29290.6], "nice": false, "zero": false}, "axis": null}, "y2": {"field": "p2"}}},
{"data": {"values": [{"i":-0.1,"p":29251.7},{"i":21.9,"p":29266.4},{"i":95.8,"p":29034.8},{"i":112.9,"p":29237.0},{"i":145.9,"p":28921.5}]}, "mark": {"type": "line", "strokeWidth": 14, "color": "#5e8f5e", "strokeCap": "butt"},
 "encoding": {"x": {"field": "i", "type": "quantitative", "scale": {"domain": [-0.2, 164.7], "nice": false, "zero": false}, "axis": null}, "y": {"field": "p", "type": "quantitative", "scale": {"domain": [28823.9, 29290.6], "nice": false, "zero": false}, "axis": null}}},
{"data": {"values": [{"i":147.9,"p":28912.0}]}, "mark": {"type": "circle", "size": 20612, "color": "#1b66a6", "opacity": 1},
 "encoding": {"x": {"field": "i", "type": "quantitative", "scale": {"domain": [-0.2, 164.7], "nice": false, "zero": false}, "axis": null}, "y": {"field": "p", "type": "quantitative", "scale": {"domain": [28823.9, 29290.6], "nice": false, "zero": false}, "axis": null}}},
{"data": {"values": [{"i":80.9,"i2":146,"p":29122}]}, "mark": {"type": "rule", "strokeWidth": 3, "color": "#ffffff"},
 "encoding": {"x": {"field": "i", "type": "quantitative", "scale": {"domain": [-0.2, 164.7], "nice": false, "zero": false}, "axis": null}, "x2": {"field": "i2"}, "y": {"field": "p", "type": "quantitative", "scale": {"domain": [28823.9, 29290.6], "nice": false, "zero": false}, "axis": null}}},
{"data": {"name": "gray"}, "mark": {"type": "line", "strokeWidth": 3, "color": "#6d6d6d"},
 "encoding": {"x": {"field": "i", "type": "quantitative", "scale": {"domain": [-0.2, 164.7], "nice": false, "zero": false}, "axis": null}, "y": {"field": "p", "type": "quantitative", "scale": {"domain": [28823.9, 29290.6], "nice": false, "zero": false}, "axis": null}, "detail": {"field": "g"}}},
{"data": {"values": [{"s":"29269","i":24.4,"p":29266.4}]}, "mark": {"type": "text", "align": "left", "baseline": "middle", "fontSize": 25, "color": "#e24be2"},
 "encoding": {"x": {"field": "i", "type": "quantitative", "scale": {"domain": [-0.2, 164.7], "nice": false, "zero": false}, "axis": null}, "y": {"field": "p", "type": "quantitative", "scale": {"domain": [28823.9, 29290.6], "nice": false, "zero": false}, "axis": null}, "text": {"field": "s"}}},
{"data": {"values": [{"i":73.2,"i2":82.7,"p":29180.8,"p2":29156.6}]}, "mark": {"type": "rect", "filled": false, "color": "#e0e0e0", "strokeWidth": 1},
 "encoding": {"x": {"field": "i", "type": "quantitative", "scale": {"domain": [-0.2, 164.7], "nice": false, "zero": false}, "axis": null}, "x2": {"field": "i2"}, "y": {"field": "p", "type": "quantitative", "scale": {"domain": [28823.9, 29290.6], "nice": false, "zero": false}, "axis": null}, "y2": {"field": "p2"}}},
{"data": {"values": [{"s":"29168","i":73.6,"p":29167.8}]}, "mark": {"type": "text", "align": "left", "baseline": "middle", "fontSize": 26, "color": "#e8e8e8"},
 "encoding": {"x": {"field": "i", "type": "quantitative", "scale": {"domain": [-0.2, 164.7], "nice": false, "zero": false}, "axis": null}, "y": {"field": "p", "type": "quantitative", "scale": {"domain": [28823.9, 29290.6], "nice": false, "zero": false}, "axis": null}, "text": {"field": "s"}}},
{"data": {"name": "candles"}, "mark": {"type": "rule", "strokeWidth": 1},
 "encoding": {"x": {"field": "i", "type": "quantitative", "scale": {"domain": [-0.2, 164.7], "nice": false, "zero": false}, "axis": null}, "y": {"field": "l", "type": "quantitative", "scale": {"domain": [28823.9, 29290.6], "nice": false, "zero": false}, "axis": null}, "y2": {"field": "h"}, "color": {"condition": [{"test": "datum.t=='up'", "value": "#00c2d6"}, {"test": "datum.t=='nt'", "value": "#3c4045"}], "value": "#e49bd3"}}},
{"data": {"name": "candles"}, "mark": {"type": "bar", "size": 5.5},
 "encoding": {"x": {"field": "i", "type": "quantitative", "scale": {"domain": [-0.2, 164.7], "nice": false, "zero": false}, "axis": null}, "y": {"field": "o", "type": "quantitative", "scale": {"domain": [28823.9, 29290.6], "nice": false, "zero": false}, "axis": null}, "y2": {"field": "c"}, "color": {"condition": [{"test": "datum.t=='up'", "value": "#00c2d6"}, {"test": "datum.t=='nt'", "value": "#3c4045"}], "value": "#e49bd3"}}},
{"data": {"name": "ma"}, "transform": [{"filter": "datum.m=='s'"}], "mark": {"type": "line", "strokeWidth": 8, "color": "#000000"},
 "encoding": {"x": {"field": "i", "type": "quantitative", "scale": {"domain": [-0.2, 164.7], "nice": false, "zero": false}, "axis": null}, "y": {"field": "p", "type": "quantitative", "scale": {"domain": [28823.9, 29290.6], "nice": false, "zero": false}, "axis": null}, "detail": {"field": "s"}}},
{"data": {"name": "ma"}, "transform": [{"filter": "datum.m=='s'"}], "mark": {"type": "line", "strokeWidth": 5.5},
 "encoding": {"x": {"field": "i", "type": "quantitative", "scale": {"domain": [-0.2, 164.7], "nice": false, "zero": false}, "axis": null}, "y": {"field": "p", "type": "quantitative", "scale": {"domain": [28823.9, 29290.6], "nice": false, "zero": false}, "axis": null}, "detail": {"field": "s"}, "color": {"condition": {"test": "datum.c=='b'", "value": "#4169e1"}, "value": "#ffd700"}}},
{"data": {"name": "ma"}, "transform": [{"filter": "datum.m=='f'"}], "mark": {"type": "line", "strokeWidth": 4.5, "color": "#000000"},
 "encoding": {"x": {"field": "i", "type": "quantitative", "scale": {"domain": [-0.2, 164.7], "nice": false, "zero": false}, "axis": null}, "y": {"field": "p", "type": "quantitative", "scale": {"domain": [28823.9, 29290.6], "nice": false, "zero": false}, "axis": null}, "detail": {"field": "s"}}},
{"data": {"name": "ma"}, "transform": [{"filter": "datum.m=='f'"}], "mark": {"type": "line", "strokeWidth": 2.8},
 "encoding": {"x": {"field": "i", "type": "quantitative", "scale": {"domain": [-0.2, 164.7], "nice": false, "zero": false}, "axis": null}, "y": {"field": "p", "type": "quantitative", "scale": {"domain": [28823.9, 29290.6], "nice": false, "zero": false}, "axis": null}, "detail": {"field": "s"}, "color": {"condition": {"test": "datum.c=='b'", "value": "#4169e1"}, "value": "#ffd700"}}},
{"data": {"values": [{"i":112.9,"p":29237.0,"k":"r"},{"i":95.8,"p":29035.0,"k":"g"},{"i":145.9,"p":28921.5,"k":"g"}]}, "mark": {"type": "circle", "size": 480, "opacity": 1},
 "encoding": {"x": {"field": "i", "type": "quantitative", "scale": {"domain": [-0.2, 164.7], "nice": false, "zero": false}, "axis": null}, "y": {"field": "p", "type": "quantitative", "scale": {"domain": [28823.9, 29290.6], "nice": false, "zero": false}, "axis": null}, "color": {"condition": {"test": "datum.k=='r'", "value": "#dc143c"}, "value": "#32cd32"}}},
{"data": {"values": [{"i":0.4,"i2":79.1,"p":29281.5}]}, "mark": {"type": "rule", "strokeWidth": 3, "color": "#ffffff"},
 "encoding": {"x": {"field": "i", "type": "quantitative", "scale": {"domain": [-0.2, 164.7], "nice": false, "zero": false}, "axis": null}, "x2": {"field": "i2"}, "y": {"field": "p", "type": "quantitative", "scale": {"domain": [28823.9, 29290.6], "nice": false, "zero": false}, "axis": null}}},
{"data": {"values": [{"i":9.7,"i2":28.9,"p":29288.0,"p2":29274.2,"k":"h"},{"i":29.3,"i2":45.7,"p":29288.0,"p2":29274.2,"k":"l"},{"i":46.1,"i2":64.7,"p":29288.0,"p2":29274.2,"k":"n"}]}, "mark": {"type": "rect"},
 "encoding": {"x": {"field": "i", "type": "quantitative", "scale": {"domain": [-0.2, 164.7], "nice": false, "zero": false}, "axis": null}, "x2": {"field": "i2"}, "y": {"field": "p", "type": "quantitative", "scale": {"domain": [28823.9, 29290.6], "nice": false, "zero": false}, "axis": null}, "y2": {"field": "p2"}, "color": {"condition": {"test": "datum.k=='h'", "value": "#1a74cc"}, "value": "#8c1c1c"}}},
{"data": {"values": [{"s":"HONG KONG 10:20","i":19.3,"p":29281.1},{"s":"LONDON  02:20","i":37.5,"p":29281.1},{"s":"NEW YORK  22:20","i":55.4,"p":29281.1}]}, "mark": {"type": "text", "align": "center", "baseline": "middle", "fontSize": 15, "fontWeight": "bold", "color": "#ffffff"},
 "encoding": {"x": {"field": "i", "type": "quantitative", "scale": {"domain": [-0.2, 164.7], "nice": false, "zero": false}, "axis": null}, "y": {"field": "p", "type": "quantitative", "scale": {"domain": [28823.9, 29290.6], "nice": false, "zero": false}, "axis": null}, "text": {"field": "s"}}},
{"data": {"values": [{"i":1.2,"i2":47.2,"p":29185.1,"p2":29041.7}]}, "mark": {"type": "rect", "fill": "#1e2530", "stroke": "#ffffff", "strokeWidth": 3},
 "encoding": {"x": {"field": "i", "type": "quantitative", "scale": {"domain": [-0.2, 164.7], "nice": false, "zero": false}, "axis": null}, "x2": {"field": "i2"}, "y": {"field": "p", "type": "quantitative", "scale": {"domain": [28823.9, 29290.6], "nice": false, "zero": false}, "axis": null}, "y2": {"field": "p2"}}},
{"data": {"name": "tbl"}, "transform": [{"filter": "datum.k=='h'"}], "mark": {"type": "text", "align": "left", "baseline": "middle", "fontSize": 12.5, "fontWeight": "bold"},
 "encoding": {"x": {"field": "i", "type": "quantitative", "scale": {"domain": [-0.2, 164.7], "nice": false, "zero": false}, "axis": null}, "y": {"field": "p", "type": "quantitative", "scale": {"domain": [28823.9, 29290.6], "nice": false, "zero": false}, "axis": null}, "text": {"field": "s"}, "color": {"condition": {"test": "datum.s=='M1'", "value": "#1e90ff"}, "value": "#9c9c9c"}}},
{"data": {"name": "tbl"}, "transform": [{"filter": "datum.k!='h'"}], "mark": {"type": "text", "align": "left", "baseline": "middle", "fontSize": 17.5, "fontWeight": "bold"},
 "encoding": {"x": {"field": "i", "type": "quantitative", "scale": {"domain": [-0.2, 164.7], "nice": false, "zero": false}, "axis": null}, "y": {"field": "p", "type": "quantitative", "scale": {"domain": [28823.9, 29290.6], "nice": false, "zero": false}, "axis": null}, "text": {"field": "s"}, "color": {"condition": [{"test": "datum.k=='n' && datum.r==5", "value": "#1e90ff"}, {"test": "datum.k=='n'", "value": "#ffffff"}, {"test": "datum.k=='x'", "value": "#c0c0c0"}, {"test": "datum.r==5", "value": "#ee82ee"}], "value": "#00ff00"}}},
{"data": {"name": "boxes"}, "mark": {"type": "rect", "color": "#ff8c00"},
 "encoding": {"x": {"field": "i", "type": "quantitative", "scale": {"domain": [-0.2, 164.7], "nice": false, "zero": false}, "axis": null}, "x2": {"field": "i2"}, "y": {"field": "p", "type": "quantitative", "scale": {"domain": [28823.9, 29290.6], "nice": false, "zero": false}, "axis": null}, "y2": {"field": "p2"}}},
{"data": {"values": [{"i":151.7,"i2":163.4,"p":29280.2,"p2":29044.3}]}, "mark": {"type": "rect", "fill": "#1e242d", "stroke": "#cde8d8", "strokeWidth": 1},
 "encoding": {"x": {"field": "i", "type": "quantitative", "scale": {"domain": [-0.2, 164.7], "nice": false, "zero": false}, "axis": null}, "x2": {"field": "i2"}, "y": {"field": "p", "type": "quantitative", "scale": {"domain": [28823.9, 29290.6], "nice": false, "zero": false}, "axis": null}, "y2": {"field": "p2"}}},
{"data": {"values": [{"i":153.1,"i2":162.2,"p":29161.0,"p2":29140.2}]}, "mark": {"type": "rect", "color": "#dc143c"},
 "encoding": {"x": {"field": "i", "type": "quantitative", "scale": {"domain": [-0.2, 164.7], "nice": false, "zero": false}, "axis": null}, "x2": {"field": "i2"}, "y": {"field": "p", "type": "quantitative", "scale": {"domain": [28823.9, 29290.6], "nice": false, "zero": false}, "axis": null}, "y2": {"field": "p2"}}},
{"data": {"name": "pan"}, "transform": [{"filter": "datum.r=='t'"}], "mark": {"type": "text", "align": "right", "baseline": "middle", "fontSize": 21, "fontWeight": "bold", "color": "#ffffff"},
 "encoding": {"x": {"field": "i", "type": "quantitative", "scale": {"domain": [-0.2, 164.7], "nice": false, "zero": false}, "axis": null}, "y": {"field": "p", "type": "quantitative", "scale": {"domain": [28823.9, 29290.6], "nice": false, "zero": false}, "axis": null}, "text": {"field": "s"}}},
{"data": {"name": "pan"}, "transform": [{"filter": "datum.r=='b'"}], "mark": {"type": "text", "align": "right", "baseline": "middle", "fontSize": 24, "fontWeight": "bold", "color": "#ee82ee"},
 "encoding": {"x": {"field": "i", "type": "quantitative", "scale": {"domain": [-0.2, 164.7], "nice": false, "zero": false}, "axis": null}, "y": {"field": "p", "type": "quantitative", "scale": {"domain": [28823.9, 29290.6], "nice": false, "zero": false}, "axis": null}, "text": {"field": "s"}}},
{"data": {"name": "pan"}, "transform": [{"filter": "datum.r=='m1'"}], "mark": {"type": "text", "align": "center", "baseline": "middle", "fontSize": 14, "fontWeight": "bold", "font": "DejaVu Sans Mono", "color": "#ffffff"},
 "encoding": {"x": {"field": "i", "type": "quantitative", "scale": {"domain": [-0.2, 164.7], "nice": false, "zero": false}, "axis": null}, "y": {"field": "p", "type": "quantitative", "scale": {"domain": [28823.9, 29290.6], "nice": false, "zero": false}, "axis": null}, "text": {"field": "s"}}},
{"data": {"name": "pan"}, "transform": [{"filter": "datum.r=='clk'"}], "mark": {"type": "text", "align": "center", "baseline": "middle", "fontSize": 18, "color": "#f0a030"},
 "encoding": {"x": {"field": "i", "type": "quantitative", "scale": {"domain": [-0.2, 164.7], "nice": false, "zero": false}, "axis": null}, "y": {"field": "p", "type": "quantitative", "scale": {"domain": [28823.9, 29290.6], "nice": false, "zero": false}, "axis": null}, "text": {"field": "s"}}},
{"data": {"name": "pan"}, "transform": [{"filter": "datum.r=='m2'"}], "mark": {"type": "text", "align": "center", "baseline": "middle", "fontSize": 13.5, "fontWeight": "bold", "font": "DejaVu Sans Mono", "color": "#ffd700"},
 "encoding": {"x": {"field": "i", "type": "quantitative", "scale": {"domain": [-0.2, 164.7], "nice": false, "zero": false}, "axis": null}, "y": {"field": "p", "type": "quantitative", "scale": {"domain": [28823.9, 29290.6], "nice": false, "zero": false}, "axis": null}, "text": {"field": "s"}}},
{"data": {"name": "pan"}, "transform": [{"filter": "datum.r=='m3'"}], "mark": {"type": "text", "align": "center", "baseline": "middle", "fontSize": 16.5, "fontWeight": "bold", "font": "DejaVu Sans Mono", "color": "#ee82ee"},
 "encoding": {"x": {"field": "i", "type": "quantitative", "scale": {"domain": [-0.2, 164.7], "nice": false, "zero": false}, "axis": null}, "y": {"field": "p", "type": "quantitative", "scale": {"domain": [28823.9, 29290.6], "nice": false, "zero": false}, "axis": null}, "text": {"field": "s"}}},
{"data": {"name": "pan"}, "transform": [{"filter": "datum.r=='pct'"}], "mark": {"type": "text", "align": "right", "baseline": "middle", "fontSize": 30, "color": "#f47ee8"},
 "encoding": {"x": {"field": "i", "type": "quantitative", "scale": {"domain": [-0.2, 164.7], "nice": false, "zero": false}, "axis": null}, "y": {"field": "p", "type": "quantitative", "scale": {"domain": [28823.9, 29290.6], "nice": false, "zero": false}, "axis": null}, "text": {"field": "s"}}},
{"data": {"name": "pan"}, "transform": [{"filter": "datum.r=='lab'"}], "mark": {"type": "text", "align": "left", "baseline": "middle", "fontSize": 15},
 "encoding": {"x": {"field": "i", "type": "quantitative", "scale": {"domain": [-0.2, 164.7], "nice": false, "zero": false}, "axis": null}, "y": {"field": "p", "type": "quantitative", "scale": {"domain": [28823.9, 29290.6], "nice": false, "zero": false}, "axis": null}, "text": {"field": "s"}, "color": {"condition": {"test": "datum.s=='HiLo'", "value": "#b8b8b8"}, "value": "#ffffff"}}},
{"data": {"name": "pan"}, "transform": [{"filter": "datum.r=='val'"}], "mark": {"type": "text", "align": "right", "baseline": "middle", "fontSize": 15},
 "encoding": {"x": {"field": "i", "type": "quantitative", "scale": {"domain": [-0.2, 164.7], "nice": false, "zero": false}, "axis": null}, "y": {"field": "p", "type": "quantitative", "scale": {"domain": [28823.9, 29290.6], "nice": false, "zero": false}, "axis": null}, "text": {"field": "s"}, "color": {"condition": [{"test": "datum.s=='-2'", "value": "#ee82ee"}, {"test": "datum.s=='3'", "value": "#b8b8b8"}, {"test": "datum.s=='6'", "value": "#ff9900"}], "value": "#ffffff"}}},
{"data": {"name": "pan"}, "transform": [{"filter": "datum.r=='big'"}], "mark": {"type": "text", "align": "left", "baseline": "middle", "fontSize": 21, "color": "#ee82ee"},
 "encoding": {"x": {"field": "i", "type": "quantitative", "scale": {"domain": [-0.2, 164.7], "nice": false, "zero": false}, "axis": null}, "y": {"field": "p", "type": "quantitative", "scale": {"domain": [28823.9, 29290.6], "nice": false, "zero": false}, "axis": null}, "text": {"field": "s"}}},
{"data": {"name": "pan"}, "transform": [{"filter": "datum.r=='sup'"}], "mark": {"type": "text", "align": "left", "baseline": "middle", "fontSize": 10.5, "color": "#ffffff"},
 "encoding": {"x": {"field": "i", "type": "quantitative", "scale": {"domain": [-0.2, 164.7], "nice": false, "zero": false}, "axis": null}, "y": {"field": "p", "type": "quantitative", "scale": {"domain": [28823.9, 29290.6], "nice": false, "zero": false}, "axis": null}, "text": {"field": "s"}}},
{"data": {"values": [{"i":0.3,"i2":5.05,"p":28956.1,"p2":28938.8}]}, "mark": {"type": "rect", "fill": "#141414", "stroke": "#6a6a6a", "strokeWidth": 1, "cornerRadius": 2},
 "encoding": {"x": {"field": "i", "type": "quantitative", "scale": {"domain": [-0.2, 164.7], "nice": false, "zero": false}, "axis": null}, "x2": {"field": "i2"}, "y": {"field": "p", "type": "quantitative", "scale": {"domain": [28823.9, 29290.6], "nice": false, "zero": false}, "axis": null}, "y2": {"field": "p2"}}},
{"data": {"values": [{"s":"ON","i":2.7,"p":28947.5}]}, "mark": {"type": "text", "align": "center", "baseline": "middle", "fontSize": 15, "color": "#a0a0a0"},
 "encoding": {"x": {"field": "i", "type": "quantitative", "scale": {"domain": [-0.2, 164.7], "nice": false, "zero": false}, "axis": null}, "y": {"field": "p", "type": "quantitative", "scale": {"domain": [28823.9, 29290.6], "nice": false, "zero": false}, "axis": null}, "text": {"field": "s"}}},
{"data": {"values": [{"s":"#31572928 tp","i":0.7,"p":28931.9}]}, "mark": {"type": "text", "align": "left", "baseline": "middle", "fontSize": 9.5, "color": "#b4b4b4"},
 "encoding": {"x": {"field": "i", "type": "quantitative", "scale": {"domain": [-0.2, 164.7], "nice": false, "zero": false}, "axis": null}, "y": {"field": "p", "type": "quantitative", "scale": {"domain": [28823.9, 29290.6], "nice": false, "zero": false}, "axis": null}, "text": {"field": "s"}}},
{"data": {"values": [{"s":"▼","i":147.9,"p":29289.3}]}, "mark": {"type": "text", "align": "center", "baseline": "middle", "fontSize": 10, "color": "#ffffff"},
 "encoding": {"x": {"field": "i", "type": "quantitative", "scale": {"domain": [-0.2, 164.7], "nice": false, "zero": false}, "axis": null}, "y": {"field": "p", "type": "quantitative", "scale": {"domain": [28823.9, 29290.6], "nice": false, "zero": false}, "axis": null}, "text": {"field": "s"}}},
{"data": {"values": [{"i":-0.15,"i2":164.65,"v":-1095.5,"v2":-1203.4}]}, "mark": {"type": "rect", "color": "#23272b"},
 "encoding": {"x": {"field": "i", "type": "quantitative", "scale": {"domain": [-0.2, 164.7], "nice": false, "zero": false}, "axis": null}, "x2": {"field": "i2"}, "y": {"field": "v", "type": "quantitative", "scale": {"domain": [-1204.0, -624.0], "nice": false, "zero": false}, "axis": null}, "y2": {"field": "v2"}}},
{"data": {"values": [{"i":-0.15,"i2":164.65,"v":-1095.5},{"i":-0.15,"i2":164.65,"v":-1098.6}]}, "mark": {"type": "rule", "strokeWidth": 1, "color": "#8c8c8c"},
 "encoding": {"x": {"field": "i", "type": "quantitative", "scale": {"domain": [-0.2, 164.7], "nice": false, "zero": false}, "axis": null}, "x2": {"field": "i2"}, "y": {"field": "v", "type": "quantitative", "scale": {"domain": [-1204.0, -624.0], "nice": false, "zero": false}, "axis": null}}},
{"data": {"values": [{"i":80.9,"v":-624.6,"v2":-1203.4}]}, "mark": {"type": "rule", "strokeWidth": 1, "color": "#bbbbbb", "strokeDash": [3,3]},
 "encoding": {"x": {"field": "i", "type": "quantitative", "scale": {"domain": [-0.2, 164.7], "nice": false, "zero": false}, "axis": null}, "y": {"field": "v", "type": "quantitative", "scale": {"domain": [-1204.0, -624.0], "nice": false, "zero": false}, "axis": null}, "y2": {"field": "v2"}}},
{"data": {"values": [{"s":"M1","i":0.6,"v":-1108.4}]}, "mark": {"type": "text", "align": "left", "baseline": "middle", "fontSize": 10, "color": "#9a9a9a"},
 "encoding": {"x": {"field": "i", "type": "quantitative", "scale": {"domain": [-0.2, 164.7], "nice": false, "zero": false}, "axis": null}, "y": {"field": "v", "type": "quantitative", "scale": {"domain": [-1204.0, -624.0], "nice": false, "zero": false}, "axis": null}, "text": {"field": "s"}}},
{"data": {"name": "osd"}, "mark": {"type": "line", "strokeWidth": 1, "color": "#ffffff", "strokeDash": [2,2]},
 "encoding": {"x": {"field": "i", "type": "quantitative", "scale": {"domain": [-0.2, 164.7], "nice": false, "zero": false}, "axis": null}, "y": {"field": "v", "type": "quantitative", "scale": {"domain": [-1204.0, -624.0], "nice": false, "zero": false}, "axis": null}}},
{"data": {"name": "osc"}, "mark": {"type": "line", "strokeWidth": 3},
 "encoding": {"x": {"field": "i", "type": "quantitative", "scale": {"domain": [-0.2, 164.7], "nice": false, "zero": false}, "axis": null}, "y": {"field": "v", "type": "quantitative", "scale": {"domain": [-1204.0, -624.0], "nice": false, "zero": false}, "axis": null}, "detail": {"field": "s"}, "color": {"condition": {"test": "datum.c=='c'", "value": "#00d8ff"}, "value": "#dc143c"}}},
{"data": {"values": [{"s":"+1","i":142.3,"v":-1190.0}]}, "mark": {"type": "text", "align": "left", "baseline": "alphabetic", "fontSize": 140, "fontWeight": "bold", "color": "#00ffff"},
 "encoding": {"x": {"field": "i", "type": "quantitative", "scale": {"domain": [-0.2, 164.7], "nice": false, "zero": false}, "axis": null}, "y": {"field": "v", "type": "quantitative", "scale": {"domain": [-1204.0, -624.0], "nice": false, "zero": false}, "axis": null}, "text": {"field": "s"}}},
{"data": {"values": [{"i":150.6,"i2":164.6,"p":28989.8,"p2":28911.6}]}, "mark": {"type": "rect", "color": "#23272b"},
 "encoding": {"x": {"field": "i", "type": "quantitative", "scale": {"domain": [-0.2, 164.7], "nice": false, "zero": false}, "axis": null}, "x2": {"field": "i2"}, "y": {"field": "p", "type": "quantitative", "scale": {"domain": [28823.9, 29290.6], "nice": false, "zero": false}, "axis": null}, "y2": {"field": "p2"}}},
{"data": {"values": [{"s":"Profit/Loss","i":157.9,"p":28966.2},{"s":"Percent","i":158.6,"p":28947.5}]}, "mark": {"type": "text", "align": "center", "baseline": "middle", "fontSize": 17.5, "color": "#8c8c8c"},
 "encoding": {"x": {"field": "i", "type": "quantitative", "scale": {"domain": [-0.2, 164.7], "nice": false, "zero": false}, "axis": null}, "y": {"field": "p", "type": "quantitative", "scale": {"domain": [28823.9, 29290.6], "nice": false, "zero": false}, "axis": null}, "text": {"field": "s"}}},
{"data": {"values": [{"s":"2.57%","i":159.4,"p":28925.4}]}, "mark": {"type": "text", "align": "center", "baseline": "middle", "fontSize": 22, "color": "#00ffff"},
 "encoding": {"x": {"field": "i", "type": "quantitative", "scale": {"domain": [-0.2, 164.7], "nice": false, "zero": false}, "axis": null}, "y": {"field": "p", "type": "quantitative", "scale": {"domain": [28823.9, 29290.6], "nice": false, "zero": false}, "axis": null}, "text": {"field": "s"}}},
{"data": {"values": [{"i":164.95,"i2":169.9,"p":28956.1,"p2":28945.7,"k":"o"},{"i":164.95,"i2":169.9,"p":28946.6,"p2":28936.2,"k":"g"}]}, "mark": {"type": "rect"},
 "encoding": {"x": {"field": "i", "type": "quantitative", "scale": {"domain": [-0.2, 164.7], "nice": false, "zero": false}, "axis": null}, "x2": {"field": "i2"}, "y": {"field": "p", "type": "quantitative", "scale": {"domain": [28823.9, 29290.6], "nice": false, "zero": false}, "axis": null}, "y2": {"field": "p2"}, "color": {"condition": {"test": "datum.k=='o'", "value": "#ff8c00"}, "value": "#c0c0c0"}}},
{"data": {"values": [{"s":"28950","i":167.4,"p":28950.9},{"s":"28942","i":167.4,"p":28941.4}]}, "mark": {"type": "text", "align": "center", "baseline": "middle", "fontSize": 10, "color": "#000000"},
 "encoding": {"x": {"field": "i", "type": "quantitative", "scale": {"domain": [-0.2, 164.7], "nice": false, "zero": false}, "axis": null}, "y": {"field": "p", "type": "quantitative", "scale": {"domain": [28823.9, 29290.6], "nice": false, "zero": false}, "axis": null}, "text": {"field": "s"}}}
],
"resolve": {"scale": {"x": "independent", "y": "independent"}}
}
